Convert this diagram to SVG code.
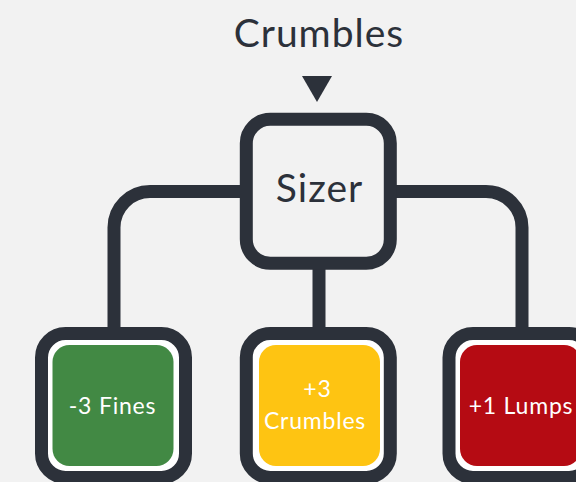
<svg xmlns="http://www.w3.org/2000/svg" width="576" height="482" viewBox="0 0 576 482">
<style>
.frame{fill:#ffffff;stroke:#2c313a;stroke-width:13}
.conn{fill:none;stroke:#2c313a;stroke-width:13}
.lbl{font-family:Lato,"Liberation Sans",sans-serif;text-anchor:middle}
.dark{fill:#2c313a;letter-spacing:1px}
.wt{fill:#ffffff;font-size:23px;letter-spacing:0.8px}
</style>
<rect width="576" height="482" fill="#f2f2f2"/>
<g id="input">
<text class="lbl dark" x="319" y="47" font-size="39">Crumbles</text>
<polygon class="dark" points="302,76 332,76 317,102"/>
</g>
<g id="connectors">
<path class="conn" d="M246,191.5 H150 A36,36 0 0 0 114,227.5 V334"/>
<path class="conn" d="M390,191.5 H486 A36,36 0 0 1 522,227.5 V334"/>
<path class="conn" d="M319,263 V334"/>
</g>
<g id="sizer">
<rect class="frame" x="246.3" y="119.3" width="144" height="144" rx="24" style="fill:#f2f2f2"/>
<text class="lbl dark" x="319.5" y="201.5" font-size="39">Sizer</text>
</g>
<g id="fines">
<rect class="frame" x="41.5" y="333.5" width="144" height="144" rx="24"/>
<rect x="52.5" y="345" width="121" height="121" rx="17" fill="#428944"/>
<text class="lbl wt" x="112.5" y="414">-3 Fines</text>
</g>
<g id="crumbles">
<rect class="frame" x="246.3" y="333.5" width="144" height="144" rx="24"/>
<rect x="259" y="345" width="121" height="121" rx="17" fill="#fec412"/>
<text class="lbl wt" x="317.5" y="397">+3</text>
<text class="lbl wt" x="315" y="429">Crumbles</text>
</g>
<g id="lumps">
<rect class="frame" x="449" y="333.5" width="144" height="144" rx="24"/>
<rect x="460" y="345" width="121" height="121" rx="17" fill="#b50b13"/>
<text class="lbl wt" x="521" y="414">+1 Lumps</text>
</g>
</svg>
